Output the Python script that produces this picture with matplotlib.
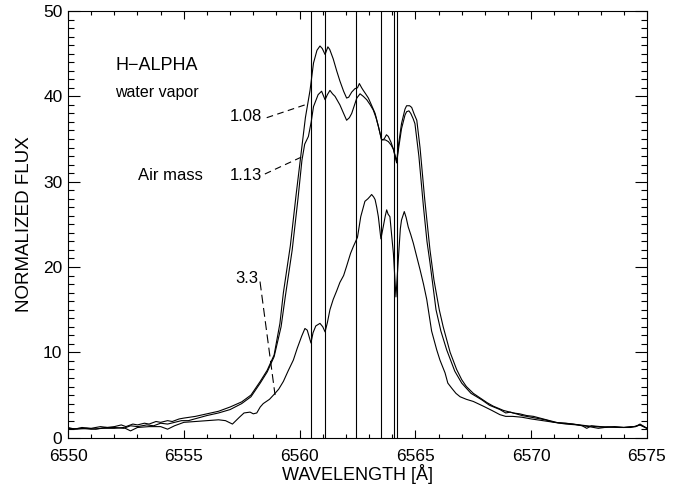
import matplotlib
matplotlib.use("Agg")
import matplotlib.pyplot as plt
from matplotlib.ticker import MultipleLocator

plt.rcParams['font.family'] = ['Liberation Sans', 'DejaVu Sans']

# espectro com massa de ar 1.08
wl_108 = [6550.0, 6550.3, 6550.6, 6551.0, 6551.4, 6551.7, 6552.0, 6552.3, 6552.5, 6552.8,
          6553.0, 6553.3, 6553.5, 6553.8, 6554.0, 6554.3, 6554.5, 6554.8,
          6555.0, 6555.5, 6556.0, 6556.5, 6557.0, 6557.5, 6557.9, 6558.3, 6558.6, 6558.9,
          6559.15, 6559.3, 6559.6, 6559.85, 6560.05, 6560.25, 6560.45, 6560.6, 6560.75, 6560.88,
          6560.98, 6561.1, 6561.22, 6561.3, 6561.45, 6561.6, 6561.74, 6561.9, 6562.03, 6562.12,
          6562.25, 6562.39, 6562.5, 6562.58, 6562.68, 6562.75, 6562.85, 6562.97, 6563.1, 6563.26,
          6563.4, 6563.54, 6563.65, 6563.75, 6563.83, 6563.95, 6564.05, 6564.19, 6564.28, 6564.4,
          6564.55, 6564.62, 6564.75, 6564.84, 6564.95, 6565.06, 6565.2, 6565.4, 6565.63, 6565.8,
          6566.03, 6566.2, 6566.35, 6566.5, 6566.78, 6567.0, 6567.2, 6567.5, 6567.8, 6568.1,
          6568.36, 6568.8, 6569.22, 6569.5, 6569.8, 6570.1, 6570.38, 6570.8, 6571.16, 6571.5,
          6571.8, 6572.1, 6572.4, 6572.8, 6573.2, 6573.6, 6574.0, 6574.3, 6574.5, 6574.7, 6575.0]
fx_108 = [1.2, 1.0, 1.2, 1.1, 1.3, 1.2, 1.3, 1.5, 1.3, 1.6,
          1.5, 1.7, 1.6, 1.9, 1.8, 2.0, 1.9, 2.2,
          2.3, 2.5, 2.8, 3.1, 3.6, 4.2, 5.0, 6.6, 7.9, 9.7,
          13.4, 17.0, 22.5, 28.5, 33.0, 37.5, 40.7, 43.9, 45.4, 45.9,
          45.6, 44.9, 45.8, 45.5, 44.4, 43.0, 41.8, 40.6, 39.8, 39.9,
          40.5, 40.9, 41.0, 41.5, 41.0, 40.7, 40.3, 39.8, 39.0, 38.0,
          36.5, 34.9, 35.0, 35.5, 35.3, 34.6, 33.8, 32.4, 34.5, 36.8,
          38.5, 38.9, 38.9, 38.7, 37.9, 37.2, 34.0, 28.0, 22.0, 18.5,
          15.0, 13.0, 11.5, 10.0, 8.0, 6.8, 6.0, 5.2, 4.65, 4.1,
          3.7, 3.2, 2.9, 2.8, 2.6, 2.5, 2.3, 2.0, 1.75, 1.7,
          1.6, 1.5, 1.4, 1.3, 1.2, 1.3, 1.2, 1.3, 1.3, 1.6, 1.1]

# espectro com massa de ar 1.13
wl_113 = [6550.0, 6550.4, 6550.8, 6551.2, 6551.6, 6552.0, 6552.4, 6552.7, 6553.0, 6553.4,
          6553.7, 6554.0, 6554.3, 6554.6, 6554.9,
          6555.2, 6555.6, 6556.0, 6556.5, 6557.0, 6557.5, 6557.9, 6558.3, 6558.6, 6558.9,
          6559.2, 6559.38, 6559.68, 6559.93, 6560.1, 6560.22, 6560.38, 6560.5, 6560.6, 6560.8,
          6560.95, 6561.1, 6561.2, 6561.31, 6561.42, 6561.53, 6561.74, 6561.9, 6562.03, 6562.15,
          6562.25, 6562.47, 6562.61, 6562.75, 6562.9, 6563.05, 6563.18, 6563.3, 6563.4, 6563.54,
          6563.7, 6563.83, 6563.95, 6564.05, 6564.19, 6564.28, 6564.4, 6564.55, 6564.62, 6564.72,
          6564.8, 6564.9, 6564.98, 6565.15, 6565.35, 6565.5, 6565.63, 6565.89, 6566.1, 6566.35,
          6566.7, 6567.0, 6567.4, 6567.86, 6568.2, 6568.65, 6568.9, 6569.1, 6569.6, 6570.2,
          6570.6, 6571.0, 6571.4, 6571.8, 6572.2, 6572.4, 6572.6, 6573.0, 6573.6, 6574.0,
          6574.5, 6574.7, 6575.0]
fx_113 = [1.1, 1.0, 1.1, 1.0, 1.2, 1.2, 1.1, 1.4, 1.3, 1.5,
          1.4, 1.7, 1.6, 1.8, 2.0,
          2.0, 2.3, 2.6, 2.9, 3.3, 4.0, 4.8, 6.4, 7.7, 9.5,
          13.0, 16.5, 22.0, 28.0, 32.5, 34.4, 35.3, 37.0, 38.8, 40.2,
          40.6, 39.6, 40.2, 40.7, 40.3, 40.0, 39.0, 38.0, 37.2, 37.5,
          38.0, 39.8, 40.3, 40.0, 39.6, 39.0, 38.4, 37.5, 36.5, 34.9,
          34.9, 34.7, 34.3, 33.8, 32.2, 34.0, 36.2, 37.8, 38.2, 38.3,
          38.0, 37.4, 36.8, 33.0, 27.0, 23.0, 20.5, 15.0, 12.5, 10.3,
          7.8, 6.4, 5.2, 4.45, 3.8, 3.3, 2.9, 3.0, 2.6, 2.3,
          2.1, 1.8, 1.7, 1.6, 1.4, 1.1, 1.4, 1.3, 1.25, 1.2,
          1.3, 1.5, 1.1]

# espectro com massa de ar 3.3
wl_33 = [6550.0, 6550.5, 6551.0, 6551.5, 6552.0, 6552.4, 6552.7, 6553.0, 6553.5, 6554.0,
         6554.3, 6554.6, 6555.0, 6555.5, 6556.0, 6556.5, 6556.8, 6557.1, 6557.4, 6557.6,
         6557.86, 6558.0, 6558.15, 6558.3, 6558.43, 6558.7, 6558.94, 6559.1, 6559.3, 6559.5,
         6559.73, 6559.9, 6560.09, 6560.23, 6560.33, 6560.49, 6560.58, 6560.7, 6560.88, 6561.0,
         6561.1, 6561.2, 6561.31, 6561.45, 6561.6, 6561.74, 6561.9, 6562.03, 6562.2, 6562.32,
         6562.42, 6562.5, 6562.64, 6562.75, 6562.82, 6562.95, 6563.05, 6563.11, 6563.2, 6563.26,
         6563.33, 6563.4, 6563.51, 6563.61, 6563.7, 6563.76, 6563.82, 6563.9, 6564.0, 6564.05,
         6564.16, 6564.26, 6564.35, 6564.4, 6564.52, 6564.6, 6564.69, 6564.8, 6564.91, 6565.05,
         6565.2, 6565.35, 6565.49, 6565.7, 6565.92, 6566.06, 6566.28, 6566.4, 6566.57, 6566.75,
         6566.93, 6567.2, 6567.5, 6567.93, 6568.3, 6568.65, 6568.9, 6569.2, 6569.6, 6570.0,
         6570.5, 6571.0, 6571.5, 6572.0, 6572.5, 6572.9, 6573.3, 6573.8, 6574.3, 6574.7,
         6575.0]
fx_33 = [1.0, 1.1, 1.0, 1.1, 1.1, 1.2, 0.8, 1.2, 1.3, 1.3,
         1.0, 1.4, 1.8, 1.9, 2.0, 2.1, 2.0, 1.6, 2.4, 2.9,
         3.0, 2.8, 2.9, 3.6, 4.0, 4.5, 5.2, 5.7, 6.6, 7.8,
         9.1, 10.5, 11.9, 12.8, 12.6, 11.1, 12.3, 13.1, 13.4, 13.0,
         12.4, 13.5, 15.0, 16.2, 17.2, 18.2, 19.0, 20.1, 21.6, 22.4,
         23.0, 23.5, 25.9, 27.0, 27.7, 28.0, 28.3, 28.5, 28.2, 27.9,
         27.0, 25.9, 23.3, 24.7, 26.0, 26.7, 26.2, 25.9, 23.0, 21.6,
         16.5, 20.8, 24.5, 25.5, 26.5, 25.8, 24.7, 23.8, 22.8, 21.3,
         19.7, 18.0, 16.2, 12.5, 10.3, 9.1, 7.6, 6.4, 5.8, 5.2,
         4.8, 4.5, 4.25, 3.7, 3.2, 2.7, 2.5, 2.5, 2.4, 2.2,
         2.0, 1.8, 1.6, 1.5, 1.3, 1.1, 1.25, 1.2, 1.2, 1.5,
         1.1]

# linhas de vapor d'agua
linhas_h2o = [6560.49, 6561.11, 6562.45, 6563.51, 6564.06, 6564.19]

fig = plt.figure(figsize=(6.85, 4.87), dpi=100)
ax = fig.add_axes([0.0993, 0.1012, 0.8452, 0.8762])

for w in linhas_h2o:
    ax.axvline(w, color='black', lw=0.8)

ax.plot(wl_108, fx_108, color='black', lw=0.8)
ax.plot(wl_113, fx_113, color='black', lw=0.8)
ax.plot(wl_33, fx_33, color='black', lw=0.8)

# textos e linhas tracejadas
ax.text(6552.03, 43.6, 'H\u2212ALPHA', fontsize=13, va='center', ha='left')
ax.text(6552.03, 40.5, 'water vapor', fontsize=11.5, va='center', ha='left')
ax.text(6553.02, 30.7, 'Air mass', fontsize=12, va='center', ha='left')
ax.text(6558.38, 37.6, '1.08', fontsize=12, va='center', ha='right')
ax.text(6558.38, 30.7, '1.13', fontsize=12, va='center', ha='right')
ax.text(6558.2, 18.7, '3.3', fontsize=12, va='center', ha='right')
ax.plot([6558.58, 6560.23], [37.5, 39.0], color='black', lw=0.8, ls=(0, (6, 4)))
ax.plot([6558.5, 6560.09], [30.9, 32.9], color='black', lw=0.8, ls=(0, (6, 4)))
ax.plot([6558.29, 6558.94], [18.3, 5.0], color='black', lw=0.8, ls=(0, (8, 4)))

ax.set_xlim(6550, 6575)
ax.set_ylim(0, 50)
ax.xaxis.set_major_locator(MultipleLocator(5))
ax.xaxis.set_minor_locator(MultipleLocator(1))
ax.yaxis.set_major_locator(MultipleLocator(10))
ax.yaxis.set_minor_locator(MultipleLocator(1))
ax.tick_params(which='both', direction='in', top=True, right=True, width=0.8, labelsize=12.5)
ax.tick_params(axis='x', which='major', length=5.8, pad=8)
ax.tick_params(axis='x', which='minor', length=2.9)
ax.tick_params(axis='y', which='major', length=8.6, pad=4)
ax.tick_params(axis='y', which='minor', length=4.3)
for s in ax.spines.values():
    s.set_linewidth(0.8)

ax.set_xlabel('WAVELENGTH [\u00c5]', fontsize=13, labelpad=0)
ax.set_ylabel('NORMALIZED FLUX', fontsize=13.5, labelpad=7)

plt.savefig('out.png', dpi=100)
